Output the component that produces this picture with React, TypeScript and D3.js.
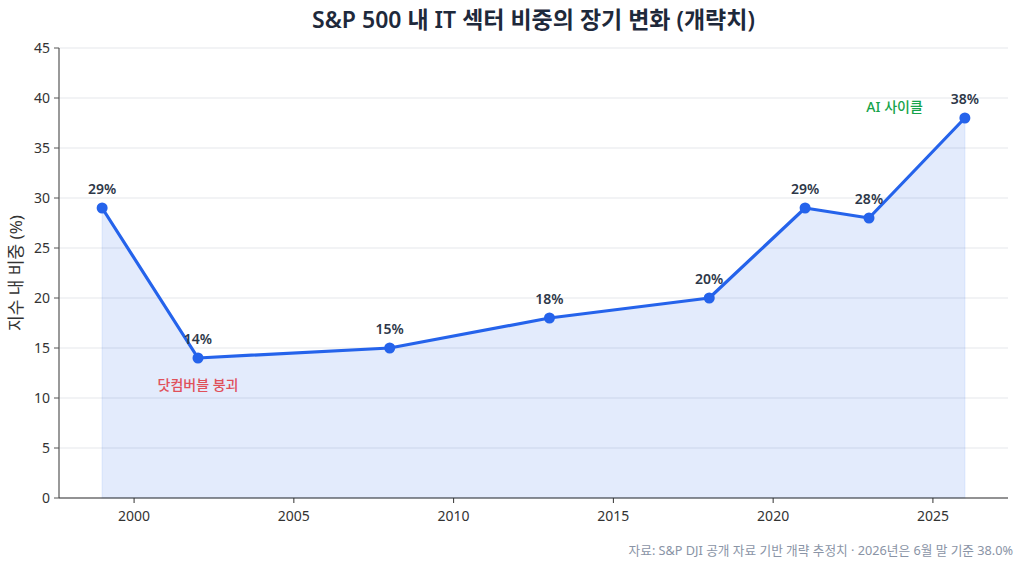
import React from "react";
import * as d3 from "d3";

const years = [1999, 2002, 2008, 2013, 2018, 2021, 2023, 2026];
const shares = [29, 14, 15, 18, 20, 29, 28, 38];
const yTicks = [0, 5, 10, 15, 20, 25, 30, 35, 40, 45];
const xTicks = [2000, 2005, 2010, 2015, 2020, 2025];
const title = "S&P 500 내 IT 섹터 비중의 장기 변화 (개략치)";
const yLabel = "지수 내 비중 (%)";
const footer = "자료: S&P DJI 공개 자료 기반 개략 추정치 · 2026년은 6월 말 기준 38.0%";
const annotations = [
  { text: "닷컴버블 붕괴", year: 2002, value: 11.3, color: "#e0505a" },
  { text: "AI 사이클", year: 2023.8, value: 39.1, color: "#16a34a" },
];

const W = 1024;
const H = 568;
const M = { left: 59, right: 16, top: 48, bottom: 70 };
const FONT = "'Noto Sans', 'Noto Sans CJK KR', sans-serif";

export default function App() {
  const pad = (years[years.length - 1] - years[0]) * 0.05;
  const x = d3
    .scaleLinear()
    .domain([years[0] - pad, years[years.length - 1] + pad])
    .range([M.left, W - M.right]);
  const y = d3.scaleLinear().domain([0, 45]).range([H - M.bottom, M.top]);
  const pts = years.map((yr, i) => [yr, shares[i]] as [number, number]);
  const line = d3
    .line<[number, number]>()
    .x((d) => x(d[0]))
    .y((d) => y(d[1]));
  const area = d3
    .area<[number, number]>()
    .x((d) => x(d[0]))
    .y0(y(0))
    .y1((d) => y(d[1]));
  const x0 = M.left;
  const x1 = W - M.right;
  const yb = y(0);
  const yt = y(45);

  return (
    <div style={{ position: "fixed", left: 0, top: 0 }}>
      <svg width={W} height={H} style={{ display: "block", background: "#fff" }} fontFamily={FONT}>
        <text x={(x0 + x1) / 2} y={28} textAnchor="middle" fontSize={23} fontWeight={600} fill="#1e293b">
          {title}
        </text>
        {yTicks.map((t) => (
          <line key={"g" + t} x1={x0} x2={x1} y1={y(t)} y2={y(t)} stroke="#e5e7eb" strokeWidth={1} />
        ))}
        <path d={area(pts) || ""} fill="rgba(37,99,235,0.13)" stroke="rgba(37,99,235,0.08)" strokeWidth={1.5} />
        <line x1={x0} x2={x0} y1={yt} y2={yb} stroke="#555" strokeWidth={1.2} />
        <line x1={x0} x2={x1} y1={yb} y2={yb} stroke="#333" strokeWidth={1.2} />
        {yTicks.map((t) => (
          <g key={"y" + t}>
            <line x1={x0 - 5} x2={x0} y1={y(t)} y2={y(t)} stroke="#555" />
            <text x={x0 - 9} y={y(t)} dy="0.35em" textAnchor="end" fontSize={14} fill="#333">
              {t}
            </text>
          </g>
        ))}
        {xTicks.map((t) => (
          <g key={"x" + t}>
            <line x1={x(t)} x2={x(t)} y1={yb} y2={yb + 5} stroke="#333" />
            <text x={x(t)} y={yb + 23} textAnchor="middle" fontSize={14} fill="#333">
              {t}
            </text>
          </g>
        ))}
        <text
          transform={`translate(22,${(yt + yb) / 2}) rotate(-90)`}
          textAnchor="middle"
          fontSize={17}
          fill="#333"
        >
          {yLabel}
        </text>
        <path d={line(pts) || ""} fill="none" stroke="#2563eb" strokeWidth={3.2} strokeLinejoin="round" />
        {pts.map((d, i) => (
          <g key={"p" + i}>
            <circle cx={x(d[0])} cy={y(d[1])} r={5.5} fill="#2563eb" />
            <text x={x(d[0])} y={y(d[1]) - 14} textAnchor="middle" fontSize={14} fontWeight={600} fill="#2d3748">
              {d[1] + "%"}
            </text>
          </g>
        ))}
        {annotations.map((a) => (
          <text key={a.text} x={x(a.year)} y={y(a.value)} dy="0.35em" textAnchor="middle" fontSize={14} fontWeight={500} fill={a.color}>
            {a.text}
          </text>
        ))}
        <text x={W - 11} y={555} textAnchor="end" fontSize={12.7} fill="#8a94a6">
          {footer}
        </text>
      </svg>
    </div>
  );
}
